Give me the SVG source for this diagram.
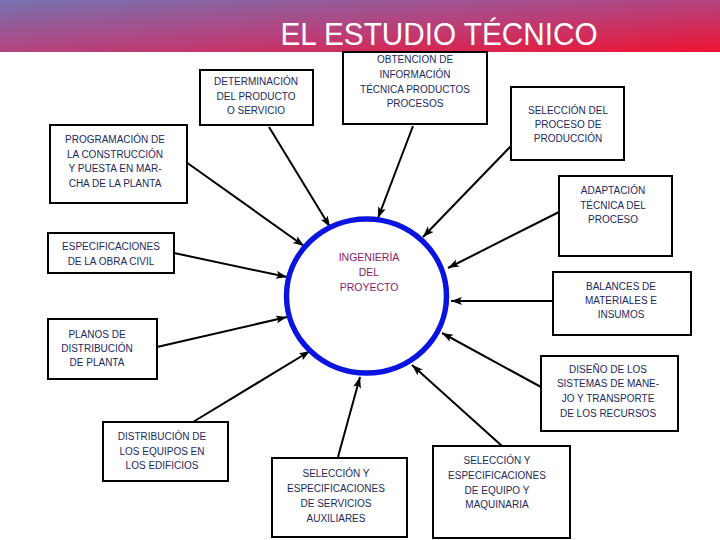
<svg xmlns="http://www.w3.org/2000/svg" width="720" height="540" viewBox="0 0 720 540">
<defs>
<linearGradient id="bar" x1="0" y1="0" x2="1" y2="1">
<stop offset="0" stop-color="#7672b0"/>
<stop offset="0.5" stop-color="#b4437f"/>
<stop offset="1" stop-color="#ef1332"/>
</linearGradient>
<marker id="arr" markerUnits="userSpaceOnUse" markerWidth="12" markerHeight="10" refX="11" refY="4" orient="auto">
<path d="M0,0 L11,4 L0,8 L2.5,4 Z" fill="#000"/>
</marker>
<style>
.box{fill:#fff;stroke:#000;stroke-width:2}
.t{font-family:"Liberation Sans",Arial,sans-serif;font-size:10px;fill:#1b2a5e;text-anchor:middle}
.c{font-family:"Liberation Sans",Arial,sans-serif;font-size:10.5px;fill:#8a1a6c;text-anchor:middle}
.ln{stroke:#000;stroke-width:2;fill:none;marker-end:url(#arr)}
</style>
</defs>
<rect x="0" y="0" width="720" height="52" fill="url(#bar)"/>
<text x="439" y="45" font-family="'Liberation Sans',Arial,sans-serif" font-size="31" fill="#fff" text-anchor="middle" textLength="317" lengthAdjust="spacingAndGlyphs">EL ESTUDIO TÉCNICO</text>

<g id="connectors">
<line class="ln" x1="269" y1="127" x2="330" y2="227"/>
<line class="ln" x1="186" y1="162" x2="304" y2="246"/>
<line class="ln" x1="413" y1="126" x2="378" y2="218"/>
<line class="ln" x1="511" y1="146" x2="423" y2="237"/>
<line class="ln" x1="559" y1="212" x2="448" y2="268"/>
<line class="ln" x1="553" y1="301" x2="451" y2="301"/>
<line class="ln" x1="541" y1="387" x2="442" y2="333"/>
<line class="ln" x1="502" y1="446" x2="412" y2="365"/>
<line class="ln" x1="338" y1="457" x2="360" y2="377"/>
<line class="ln" x1="193" y1="422" x2="310" y2="351"/>
<line class="ln" x1="157" y1="347" x2="287" y2="317"/>
<line class="ln" x1="174" y1="253" x2="287" y2="277"/>
</g>

<g id="ingenieria">
<ellipse cx="366.5" cy="296" rx="80" ry="77" fill="none" stroke="#0a14e0" stroke-width="5.5"/>
<text class="c" x="369" y="261">INGENIERÍA</text>
<text class="c" x="369" y="276">DEL</text>
<text class="c" x="369" y="291">PROYECTO</text>
</g>

<g id="determinacion">
<rect class="box" x="200" y="70" width="113" height="55"/>
<text class="t" x="256" y="85">DETERMINACIÓN</text>
<text class="t" x="256" y="100">DEL PRODUCTO</text>
<text class="t" x="256" y="114">O SERVICIO</text>
</g>

<g id="obtencion">
<rect class="box" x="343" y="52" width="144" height="72"/>
<text class="t" x="415" y="63">OBTENCION DE</text>
<text class="t" x="415" y="78">INFORMACIÓN</text>
<text class="t" x="415" y="93">TÉCNICA PRODUCTOS</text>
<text class="t" x="415" y="107">PROCESOS</text>
</g>

<g id="seleccion-proceso">
<rect class="box" x="511" y="87" width="113" height="73"/>
<text class="t" x="568" y="114">SELECCIÓN DEL</text>
<text class="t" x="568" y="128">PROCESO  DE</text>
<text class="t" x="568" y="142">PRODUCCIÓN</text>
</g>

<g id="adaptacion">
<rect class="box" x="559" y="176" width="113" height="80"/>
<text class="t" x="613" y="194">ADAPTACIÓN</text>
<text class="t" x="613" y="209">TÉCNICA DEL</text>
<text class="t" x="613" y="223">PROCESO</text>
</g>

<g id="balances">
<rect class="box" x="553" y="272" width="138" height="63"/>
<text class="t" x="621" y="290">BALANCES DE</text>
<text class="t" x="621" y="304">MATERIALES E</text>
<text class="t" x="621" y="318">INSUMOS</text>
</g>

<g id="diseno">
<rect class="box" x="541" y="356" width="137" height="75"/>
<text class="t" x="608" y="373">DISEÑO DE LOS</text>
<text class="t" x="608" y="387">SISTEMAS DE MANE-</text>
<text class="t" x="608" y="402">JO Y TRANSPORTE</text>
<text class="t" x="608" y="417">DE LOS RECURSOS</text>
</g>

<g id="equipo">
<rect class="box" x="433" y="446" width="137" height="92"/>
<text class="t" x="497" y="464">SELECCIÓN Y</text>
<text class="t" x="497" y="479">ESPECIFICACIONES</text>
<text class="t" x="497" y="494">DE EQUIPO Y</text>
<text class="t" x="497" y="508">MAQUINARIA</text>
</g>

<g id="servicios">
<rect class="box" x="272" y="458" width="135" height="79"/>
<text class="t" x="336" y="477">SELECCIÓN Y</text>
<text class="t" x="336" y="492">ESPECIFICACIONES</text>
<text class="t" x="336" y="507">DE SERVICIOS</text>
<text class="t" x="336" y="522">AUXILIARES</text>
</g>

<g id="distribucion-equipos">
<rect class="box" x="103" y="422" width="125" height="59"/>
<text class="t" x="162" y="440">DISTRIBUCIÓN DE</text>
<text class="t" x="162" y="455">LOS EQUIPOS EN</text>
<text class="t" x="162" y="469">LOS EDIFICIOS</text>
</g>

<g id="planos">
<rect class="box" x="48" y="319" width="109" height="60"/>
<text class="t" x="97" y="338">PLANOS DE</text>
<text class="t" x="97" y="352">DISTRIBUCIÓN</text>
<text class="t" x="97" y="366">DE PLANTA</text>
</g>

<g id="obra-civil">
<rect class="box" x="48" y="233" width="126" height="40"/>
<text class="t" x="111" y="250">ESPECIFICACIONES</text>
<text class="t" x="111" y="265">DE LA OBRA CIVIL</text>
</g>

<g id="programacion">
<rect class="box" x="50" y="125" width="137" height="78"/>
<text class="t" x="115" y="143">PROGRAMACIÓN DE</text>
<text class="t" x="115" y="158">LA CONSTRUCCIÓN</text>
<text class="t" x="115" y="172">Y PUESTA EN MAR-</text>
<text class="t" x="115" y="187">CHA DE LA PLANTA</text>
</g>
</svg>
